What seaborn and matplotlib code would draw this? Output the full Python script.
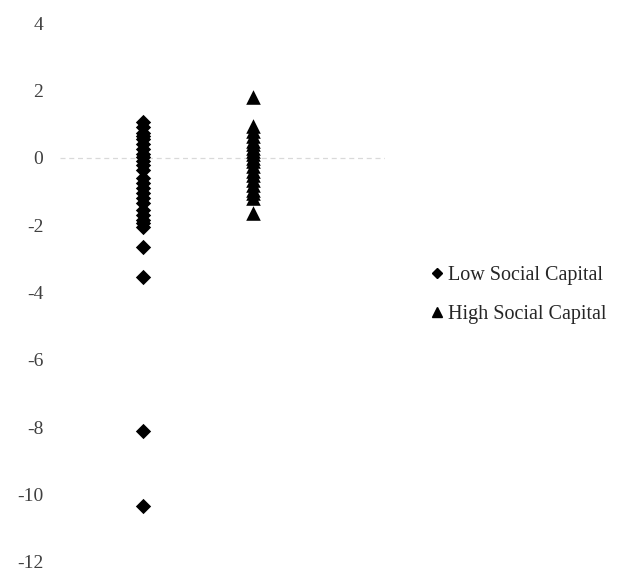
import matplotlib
matplotlib.use("Agg")
import matplotlib.pyplot as plt
from matplotlib.lines import Line2D
import seaborn as sns
import pandas as pd

groups = ["Low Social Capital", "High Social Capital"]
low_values = [1.05, 0.9, 0.75, 0.65, 0.55, 0.4, 0.25, 0.12, 0.02, -0.1, -0.2,
              -0.35, -0.6, -0.75, -0.9, -1.05, -1.2, -1.35, -1.55, -1.7, -1.85,
              -1.95, -2.05, -2.65, -3.55, -8.12, -10.33]
high_values = [1.8, 0.95, 0.8, 0.65, 0.5, 0.4, 0.3, 0.2, 0.1, 0.0, -0.1, -0.25,
               -0.4, -0.5, -0.65, -0.8, -0.95, -1.05, -1.2, -1.65]
y_ticks = [4, 2, 0, -2, -4, -6, -8, -10, -12]

df = pd.DataFrame({
    "group": [groups[0]] * len(low_values) + [groups[1]] * len(high_values),
    "value": low_values + high_values,
})

sns.set_theme(style="white")
plt.rcParams["font.family"] = ["Liberation Serif", "DejaVu Serif"]

fig = plt.figure(figsize=(6.32, 5.77), dpi=100)
ax = fig.add_axes([0.095, 0.026, 0.514, 0.934])

markers = {groups[0]: ("D", 7.8), groups[1]: ("^", 10.5)}
for g in groups:
    m, s = markers[g]
    sns.stripplot(data=df[df["group"] == g], x="group", y="value", order=groups,
                  jitter=False, marker=m, size=s, color="black", linewidth=0,
                  ax=ax, zorder=3)

ax.axhline(0, color="#d9d9d9", lw=0.9, ls=(0, (4, 3)), zorder=1)
ax.set_xlim(-0.755, 2.2)
ax.set_ylim(-12, 4)
ax.set_yticks(y_ticks)
ax.set_yticklabels([str(t) for t in y_ticks])
ax.set_xticks([])
ax.set_xlabel("")
ax.set_ylabel("")
for sp in ax.spines.values():
    sp.set_visible(False)
ax.tick_params(axis="y", length=0, pad=12, labelsize=14, labelcolor="#404040")

handles = [
    Line2D([], [], marker="D", color="black", ls="", markersize=5),
    Line2D([], [], marker="^", color="black", ls="", markersize=7),
]
fig.legend(handles, groups, loc="center left", bbox_to_anchor=(0.683, 0.489),
           frameon=False, fontsize=14.5, handlelength=0.5, handletextpad=0.3,
           labelspacing=1.0, borderaxespad=0, borderpad=0)

fig.savefig("out.png", dpi=100)
